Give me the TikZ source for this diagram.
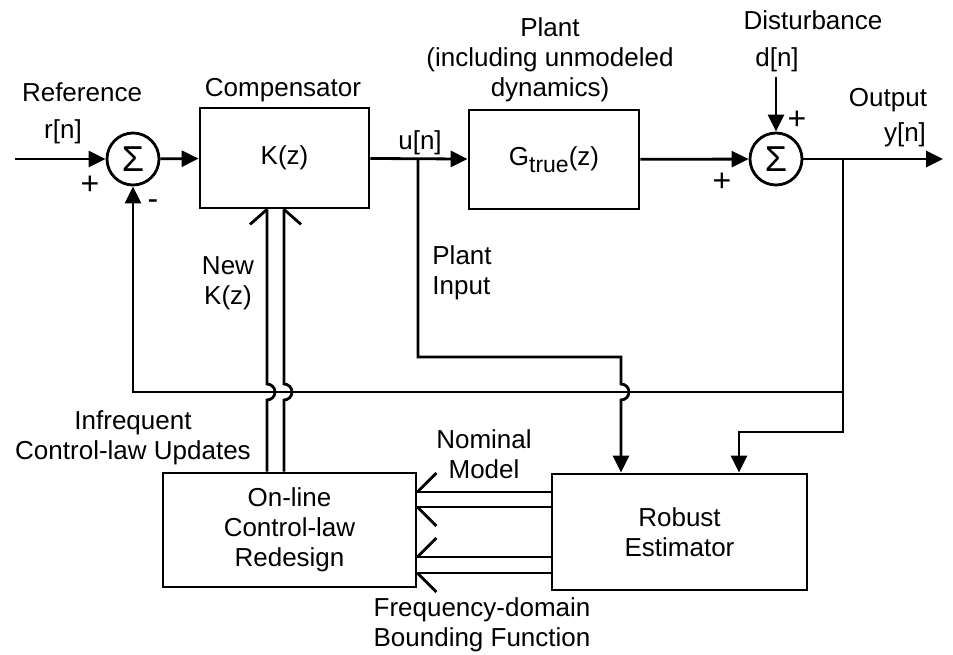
\documentclass[tikz,border=0pt]{standalone}
\usepackage{fontspec}
\setmainfont{Liberation Sans}
\usetikzlibrary{arrows.meta,positioning}
\begin{document}
\begin{tikzpicture}[x=0.5pt, y=-0.5pt, line width=1.4pt,
    font=\fontsize{13}{15}\selectfont,
    block/.style={draw, rectangle, align=center, inner sep=0pt},
    sumnode/.style={draw, circle, minimum size=26pt, inner sep=0pt,
        font=\fontsize{18}{18}\selectfont},
    lbl/.style={align=center, inner sep=0pt},
    sgn/.style={inner sep=0pt, font=\fontsize{16}{16}\selectfont},
    arr/.style={-{Triangle[length=8.5pt,width=8pt]}}]
    \def\hop{8}       % radius of the line hops
    \def\yFb{392}     % height of the feedback line
    \def\xKa{267}     % left line of the K(z) update
    \def\xKb{284}     % right line of the K(z) update

    \useasboundingbox (0,0) rectangle (953,654);

    % Forward path
    \node[sumnode] (sumA) at (133,159) {Σ};
    \node[block, minimum width=84.5pt, minimum height=50pt] (comp) at (284.5,158) {K(z)};
    \node[block, minimum width=85pt, minimum height=49.5pt] (plant) at (554,159.5)
        {G\raisebox{-0.55ex}{\fontsize{11.5}{12}\selectfont true}(z)};
    \node[sumnode] (sumB) at (776,159) {Σ};

    % Lower blocks
    \node[block, minimum width=126.5pt, minimum height=57pt] (redesign) at (289.5,530)
        {On-line\\Control-law\\Redesign};
    \node[block, minimum width=127.5pt, minimum height=58pt] (estim) at (679.5,532)
        {Robust\\Estimator};

    \coordinate (in) at (15,159);
    \coordinate (uB) at (418,159);   % plant input branch
    \coordinate (yB) at (843,159);   % output branch
    \coordinate (out) at (943,159);
    \coordinate (dIn) at (776,77);
    \coordinate (pIn) at (621,357);
    \coordinate (eIn) at (739,432);
    \coordinate (fbR) at (843,\yFb);
    \coordinate (fbL) at (133,\yFb);
    \coordinate (kA) at (\xKa,\yFb);
    \coordinate (kB) at (\xKb,\yFb);

    \draw[arr] (in) -- (sumA);
    \draw[arr] (sumA) -- (comp);
    \draw[arr] (comp) -- (plant);
    \draw[arr] (plant) -- (sumB);
    \draw[arr] (dIn) -- (sumB);
    \draw[arr] (sumB) -- (out);

    % Feedback and estimator inputs
    \draw[arr] (fbR) -- (fbL) -- (sumA);
    \draw[arr] (uB) -- (uB |- pIn) -- (pIn) -- ([yshift=4pt]pIn |- fbR)
        arc[start angle=-90, end angle=90, radius=\hop] -- (pIn |- estim.north);
    \draw[arr] (yB) -- (yB |- eIn) -- (eIn) -- (eIn |- estim.north);

    % New K(z) lines, hopping over the feedback line
    \foreach \k in {kA,kB}
        \draw (redesign.north -| \k) -- ([yshift=-4pt]\k)
            arc[start angle=90, end angle=-90, radius=\hop] -- (comp.south -| \k);
    \draw (comp.south -| kA) -- ++(-17,15);
    \draw (comp.south -| kB) -- ++(17,15);

    % Nominal model and bounding function
    \coordinate (nmA) at (480,492);
    \coordinate (nmB) at (480,507);
    \coordinate (bfA) at (480,557);
    \coordinate (bfB) at (480,573);
    \foreach \p in {nmA,nmB,bfA,bfB}
        \draw (estim.west |- \p) -- (redesign.east |- \p);
    \foreach \p in {nmA,bfA}
        \draw (redesign.east |- \p) -- ++(19,-19);
    \foreach \p in {nmB,bfB}
        \draw (redesign.east |- \p) -- ++(19,19);

    % Labels
    \node[lbl] (refLbl) at (82,92) {Reference};
    \node[lbl] (rLbl) at (63,132) {r[n]};
    \node[sgn] (plusA) at (90,185) {+};
    \node[sgn] (minusA) at (153,205) {-};
    \node[lbl] (compLbl) at (283,90) {Compensator};
    \node[lbl] (uLbl) at (420,143) {u[n]};
    \node[lbl] (plantLbl) at (550,60) {Plant\\(including unmodeled\\dynamics)};
    \node[lbl] (distLbl) at (813,20) {Disturbance};
    \node[lbl] (dLbl) at (777,60) {d[n]};
    \node[sgn] (plusB) at (797,120) {+};
    \node[sgn] (plusC) at (722,182) {+};
    \node[lbl] (outLbl) at (888,100) {Output};
    \node[lbl] (yLbl) at (905,135) {y[n]};
    \node[lbl] (newK) at (228,283) {New\\K(z)};
    \node[lbl, align=left, anchor=west] (piLbl) at (431,273) {Plant\\Input};
    \node[lbl] (updLbl) at (133,438) {Infrequent\\Control-law Updates};
    \node[lbl] (nomLbl) at (484,454) {Nominal\\Model};
    \node[lbl] (bndLbl) at (482,625) {Frequency-domain\\Bounding Function};
\end{tikzpicture}
\end{document}
